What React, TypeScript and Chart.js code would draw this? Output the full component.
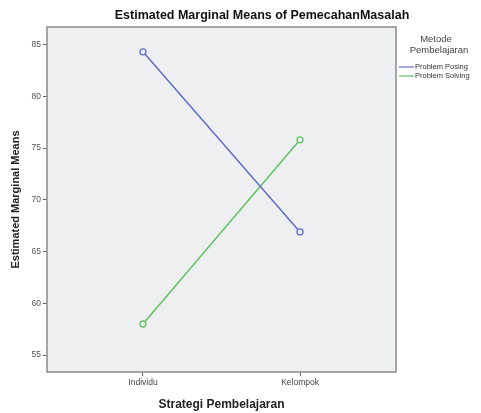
import React, { useEffect, useRef } from "react";
import { Chart, registerables } from "chart.js";

Chart.register(...registerables);

const chartTitle = "Estimated Marginal Means of PemecahanMasalah";
const xTitle = "Strategi Pembelajaran";
const yTitle = "Estimated Marginal Means";
const legendTitle = ["Metode", "Pembelajaran"];
const categories = ["Individu", "Kelompok"];
const seriesNames = ["Problem Posing", "Problem Solving"];
const posingValues = [84.3, 66.9];
const solvingValues = [58.0, 75.8];
const yTicks = [55, 60, 65, 70, 75, 80, 85];

const FONT = "'Liberation Sans', Arial, sans-serif";

const framePlugin = {
  id: "frame",
  beforeDraw(chart: any) {
    const { ctx, chartArea: a } = chart;
    ctx.save();
    ctx.fillStyle = "#eeeff1";
    ctx.fillRect(a.left, a.top, a.right - a.left, a.bottom - a.top);
    ctx.restore();
  },
  afterDraw(chart: any) {
    const { ctx, chartArea: a } = chart;
    ctx.save();
    ctx.strokeStyle = "#8a8a8a";
    ctx.lineWidth = 1.5;
    ctx.strokeRect(a.left, a.top, a.right - a.left, a.bottom - a.top);
    // title
    ctx.fillStyle = "#111";
    ctx.font = `bold 12.5px ${FONT}`;
    ctx.textAlign = "center";
    ctx.textBaseline = "middle";
    ctx.fillText(chartTitle, 262, 16);
    // legend
    ctx.fillStyle = "#444";
    ctx.font = `9.5px ${FONT}`;
    ctx.fillText(legendTitle[0], 436, 39);
    ctx.fillText(legendTitle[1], 439, 50);
    ctx.font = `7.5px ${FONT}`;
    ctx.textAlign = "left";
    chart.data.datasets.forEach((ds: any, i: number) => {
      const y = 67 + i * 9;
      ctx.strokeStyle = ds.borderColor;
      ctx.lineWidth = 1.2;
      ctx.beginPath();
      ctx.moveTo(399, y);
      ctx.lineTo(414, y);
      ctx.stroke();
      ctx.fillStyle = "#333";
      ctx.fillText(ds.label, 415, y);
    });
    ctx.restore();
  },
};

export default function App() {
  const ref = useRef<HTMLCanvasElement | null>(null);
  useEffect(() => {
    if (!ref.current) return;
    const mk = (vals: number[]) => vals.map((v, i) => ({ x: i, y: v }));
    const chart = new Chart(ref.current, {
      type: "line",
      data: {
        datasets: [
          {
            label: seriesNames[0],
            data: mk(posingValues),
            borderColor: "#5f6fc6",
            backgroundColor: "#eeeff1",
            borderWidth: 1.5,
            pointRadius: 3,
            pointBorderWidth: 1.3,
            pointBackgroundColor: "#eeeff1",
          },
          {
            label: seriesNames[1],
            data: mk(solvingValues),
            borderColor: "#62c162",
            backgroundColor: "#eeeff1",
            borderWidth: 1.5,
            pointRadius: 3,
            pointBorderWidth: 1.3,
            pointBackgroundColor: "#eeeff1",
          },
        ],
      },
      options: {
        animation: false,
        responsive: false,
        events: [],
        layout: { padding: { top: 27, right: 85, left: 0, bottom: 0 } },
        plugins: { legend: { display: false }, title: { display: false }, tooltip: { enabled: false } },
        scales: {
          x: {
            type: "linear",
            min: -0.611,
            max: 1.611,
            afterFit: (s: any) => { s.height = 41; },
            afterBuildTicks: (s: any) => { s.ticks = categories.map((_, i) => ({ value: i })); },
            ticks: {
              callback: (v: any) => categories[v] ?? "",
              font: { family: FONT, size: 8.5 },
              color: "#444",
              padding: 2,
              autoSkip: false,
              maxRotation: 0,
            },
            grid: { drawOnChartArea: false, drawTicks: true, tickLength: 4, color: "#666" },
            border: { display: false },
            title: {
              display: true,
              text: xTitle,
              font: { family: FONT, size: 12, weight: "bold" },
              color: "#222",
              padding: { top: 0, bottom: 1 },
            },
          },
          y: {
            type: "linear",
            min: 53.36,
            max: 86.7,
            afterFit: (s: any) => { s.width = 47; },
            afterBuildTicks: (s: any) => { s.ticks = yTicks.map((v) => ({ value: v })); },
            ticks: {
              font: { family: FONT, size: 8.5 },
              color: "#555",
              padding: 2,
            },
            grid: { drawOnChartArea: false, drawTicks: true, tickLength: 4, color: "#666" },
            border: { display: false },
            title: {
              display: true,
              text: yTitle,
              font: { family: FONT, size: 11, weight: "bold" },
              color: "#222",
              padding: { top: 9, bottom: 0 },
            },
          },
        },
      },
      plugins: [framePlugin],
    } as any);
    return () => chart.destroy();
  }, []);
  return (
    <div style={{ position: "absolute", left: 0, top: 0, width: 481, height: 413, background: "#fff" }}>
      <canvas ref={ref} width={481} height={413} style={{ width: 481, height: 413, display: "block" }} />
    </div>
  );
}
